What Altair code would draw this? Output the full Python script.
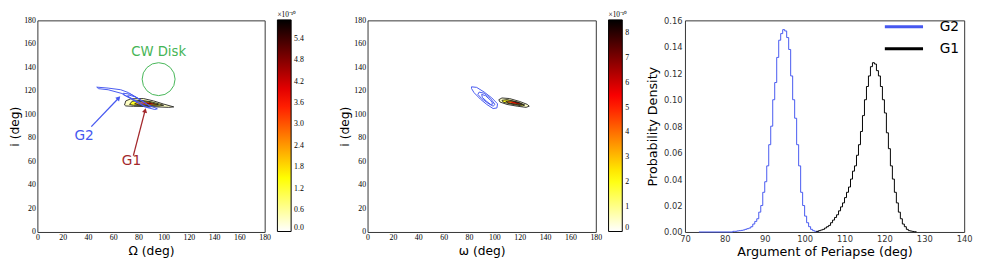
import altair as alt
import pandas as pd

# ---------------- Panel 1: Omega vs i ----------------
P1_G1_VALUES = [0.35, 1.3, 2.4, 3.7, 5.3]
P1_G1_C1 = [(69, 108.0), (70, 111.5), (74, 113.3), (84, 113.5), (92, 111.5), (100, 108.8), (108, 106.4), (104, 106.0), (90, 106.6), (76, 106.9), (70, 107.2)]
P1_G1_C2 = [(73, 108.5), (75, 111.2), (82, 112.0), (90, 110.8), (100, 107.8), (96, 107.2), (86, 107.5), (76, 107.8)]
P1_G1_C3 = [(77, 109.0), (80, 111.0), (88, 110.5), (96, 108.2), (88, 108.0), (80, 108.3)]
P1_G1_C4 = [(81, 109.3), (84, 110.4), (90, 109.8), (94, 108.6), (88, 108.6)]
P1_G1_C5 = [(85, 109.4), (89, 109.7), (91, 109.1), (87, 109.0)]

P1_G2_C1 = [(47, 123.2), (56, 122.4), (66, 121.0), (72, 118.6), (80, 113.5), (88, 108.0), (95, 104.8), (93, 104.2), (85, 106.4), (75, 113.0), (67, 117.8), (56, 121.0), (48.5, 121.9)]
P1_G2_C2 = [(68, 118.0), (74, 117.2), (82, 112.0), (90, 106.5), (88, 105.8), (80, 109.5), (73, 114.0), (68, 116.8)]
P1_G2_C3 = [(72, 116.6), (78, 114.8), (85, 110.0), (83, 109.4), (76, 112.8), (71.5, 115.6)]

CW_DISK = (96, 130)
P1_LABELS = ["CW Disk", "G2", "G1"]
P1_LABEL_POS = [(96, 153), (37, 82), (74.5, 60)]
G2_ARROW = [(42.7, 89.6), (64.4, 114.0)]
G1_ARROW = [(76.0, 65.0), (85.3, 103.4)]

# ---------------- Panel 2: omega vs i ----------------
P2_G1_VALUES = [0.5, 2.0, 4.0, 6.0, 8.0]
P2_G1_C1 = [(103.5, 112.5), (106, 114.0), (112, 113.5), (120, 111.0), (126, 108.5), (127.5, 107.0), (125, 106.0), (118, 107.0), (110, 108.5), (104.5, 110.5)]
P2_G1_C2 = [(106, 112.0), (110, 112.6), (118, 110.6), (124, 108.0), (122, 107.2), (114, 108.6), (107, 110.4)]
P2_G1_C3 = [(109, 111.2), (114, 111.4), (120, 109.8), (122.5, 108.4), (118, 108.4), (111, 109.8)]
P2_G1_C4 = [(113, 110.3), (117, 110.6), (121, 109.4), (118, 109.0), (114, 109.6)]
P2_G1_C5 = [(116, 110.0), (119, 110.1), (120.5, 109.5), (118, 109.4)]

P2_G2_C1 = [(82, 123.5), (86, 123.0), (92, 119.0), (98, 114.0), (102.5, 109.0), (102, 105.5), (99, 105.0), (94, 108.5), (89, 113.0), (84, 118.5), (82, 122.0)]
P2_G2_C2 = [(88, 119.0), (92, 118.0), (97, 113.5), (100.5, 108.5), (99, 107.0), (95, 109.5), (90, 113.5), (87, 117.0)]
P2_G2_C3 = [(90, 117.0), (93, 116.0), (97, 112.0), (99, 109.0), (97, 108.5), (94, 111.0), (90.5, 114.5)]

# ---------------- Panel 3: histograms ----------------
G2_EDGES = [82.0, 82.5, 83.0, 83.5, 84.0, 84.5, 85.0, 85.5, 86.0, 86.5, 87.0, 87.5, 88.0, 88.5, 89.0, 89.5,
            90.0, 90.5, 91.0, 91.5, 92.0, 92.5, 93.0, 93.5, 94.0, 94.5, 95.0, 95.5, 96.0, 96.5, 97.0, 97.5,
            98.0, 98.5, 99.0, 99.5, 100.0, 100.5, 101.0, 101.5, 102.0, 102.5, 103.0, 103.5]
G2_DENS = [0.0005, 0.0005, 0.0008, 0.001, 0.0012, 0.0015, 0.002, 0.0025, 0.003, 0.004, 0.006, 0.008, 0.01, 0.015,
           0.02, 0.03, 0.038, 0.05, 0.066, 0.08, 0.1, 0.113, 0.132, 0.145, 0.15, 0.153, 0.152, 0.147, 0.138, 0.118,
           0.1, 0.086, 0.066, 0.05, 0.03, 0.02, 0.012, 0.007, 0.004, 0.002, 0.001, 0.0005, 0.0003]
G1_EDGES = [103.0, 103.5, 104.0, 104.5, 105.0, 105.5, 106.0, 106.5, 107.0, 107.5, 108.0, 108.5, 109.0, 109.5,
            110.0, 110.5, 111.0, 111.5, 112.0, 112.5, 113.0, 113.5, 114.0, 114.5, 115.0, 115.5, 116.0, 116.5,
            117.0, 117.5, 118.0, 118.5, 119.0, 119.5, 120.0, 120.5, 121.0, 121.5, 122.0, 122.5, 123.0, 123.5,
            124.0, 124.5, 125.0, 125.5, 126.0, 126.5, 127.0, 127.5, 128.0]
G1_DENS = [0.0005, 0.001, 0.0015, 0.002, 0.003, 0.004, 0.005, 0.007, 0.009, 0.011, 0.013, 0.016, 0.019, 0.022,
           0.026, 0.03, 0.034, 0.04, 0.046, 0.05, 0.058, 0.066, 0.076, 0.088, 0.1, 0.11, 0.118, 0.125, 0.128,
           0.127, 0.122, 0.118, 0.11, 0.1, 0.09, 0.075, 0.063, 0.05, 0.04, 0.03, 0.022, 0.015, 0.01, 0.006,
           0.004, 0.002, 0.001, 0.0007, 0.0004, 0.0002]
G2_TAIL_START = 73.5

BLUE = "#4658f0"
GREEN = "#45b556"
DARKRED = "#a3282c"
SERIF = "Liberation Serif"
SANS = "DejaVu Sans"

W1, W2, H = 232, 233, 216
W3 = 285


def poly(pts, val, cid):
    closed = list(pts) + [pts[0]]
    return pd.DataFrame([{"x": p[0], "y": p[1], "k": k, "val": val, "cid": cid} for k, p in enumerate(closed)])


def heat_scale(vmax):
    return alt.Scale(domain=[0, 0.254 * vmax, 0.635 * vmax, vmax],
                     range=["#ffffff", "#ffff00", "#ff0000", "#000000"], interpolate="rgb")


def axes(xtitle, ytitle):
    common = dict(grid=False, ticks=False, domain=False, labelFont=SERIF, labelFontSize=8,
                  labelColor="#000", labelFlush=False, labelOverlap=False, labelPadding=2,
                  titleFont=SANS, titleFontSize=12.5, titleFontWeight="normal", titleColor="#000",
                  values=list(range(0, 181, 20)))
    return alt.Axis(title=xtitle, titlePadding=3, **common), alt.Axis(title=ytitle, titlePadding=2, **common)


def contour_panel(width, g1_contours, g1_vals, g2_contours, vmax, legend_values, legend_fmt, xtitle):
    xax, yax = axes(xtitle, "i (deg)")
    xs = alt.Scale(domain=[0, 180], nice=False)
    ys = alt.Scale(domain=[0, 180], nice=False)
    enc = dict(xax=xax, yax=yax, xs=xs, ys=ys)
    X = alt.X("x:Q", scale=xs, axis=xax)
    Y = alt.Y("y:Q", scale=ys, axis=yax)
    scale = heat_scale(vmax)
    layers = []
    for n, (c, v) in enumerate(zip(g1_contours, g1_vals)):
        leg = alt.Legend(orient="none", legendX=width + 13, legendY=-9, direction="vertical",
                         gradientLength=H, gradientThickness=14, gradientStrokeColor="#000",
                         gradientStrokeWidth=1, values=legend_values, format=legend_fmt,
                         labelFont=SERIF, labelFontSize=8, labelColor="#000", labelOffset=3,
                         labelOverlap=False, title="×10⁻¹⁰", titleFont=SERIF, titleFontSize=7.5,
                         titleFontWeight="normal", titlePadding=1, titleColor="#000") if n == 0 else None
        layers.append(
            alt.Chart(poly(c, v, f"g1_{n}")).mark_line(filled=True, strokeWidth=0).encode(
                x=X, y=Y, order="k:Q",
                color=alt.Color("val:Q", scale=scale, legend=leg),
            )
        )
    outl = pd.concat([poly(c, 0, f"o{n}") for n, c in enumerate(g1_contours[:3])])
    layers.append(alt.Chart(outl).mark_line(color="#222", strokeWidth=0.9).encode(
        x=X, y=Y, order="k:Q", detail="cid:N"))
    blue = pd.concat([poly(c, 0, f"b{n}") for n, c in enumerate(g2_contours)])
    layers.append(alt.Chart(blue).mark_line(color=BLUE, strokeWidth=1).encode(
        x=X, y=Y, order="k:Q", detail="cid:N"))
    return layers, X, Y, enc


def arrow(seg, color, ang, X, Y, enc):
    d = pd.DataFrame([{"x": seg[0][0], "y": seg[0][1], "x2": seg[1][0], "y2": seg[1][1]}])
    r = alt.Chart(d).mark_rule(color=color, strokeWidth=1.3).encode(x=X, y=Y, x2="x2:Q", y2="y2:Q")
    h = alt.Chart(d).mark_point(shape="triangle-up", filled=True, color=color, size=28, angle=ang,
                                opacity=1).encode(
        x=alt.X("x2:Q", scale=enc["xs"], axis=enc["xax"]),
        y=alt.Y("y2:Q", scale=enc["ys"], axis=enc["yax"]))
    return [r, h]


# panel 1
p1_layers, X1, Y1, E1 = contour_panel(W1, [P1_G1_C1, P1_G1_C2, P1_G1_C3, P1_G1_C4, P1_G1_C5], P1_G1_VALUES,
                                      [P1_G2_C1, P1_G2_C2, P1_G2_C3], 5.93,
                                      [0.0, 0.6, 1.2, 1.8, 2.4, 3.0, 3.6, 4.2, 4.8, 5.4], ".1f", "Ω (deg)")
disk = pd.DataFrame([{"x": CW_DISK[0], "y": CW_DISK[1]}])
p1_layers.append(alt.Chart(disk).mark_point(shape="circle", filled=False, color=GREEN, size=1130,
                                            strokeWidth=1, opacity=1).encode(x=X1, y=Y1))
lab = pd.DataFrame([{"t": t, "x": p[0], "y": p[1]} for t, p in zip(P1_LABELS, P1_LABEL_POS)])
for t, col, fs in zip(P1_LABELS, [GREEN, BLUE, DARKRED], [13.5, 14, 14]):
    p1_layers.append(alt.Chart(lab).transform_filter(alt.datum.t == t).mark_text(
        font=SANS, fontSize=fs, color=col, baseline="middle", align="center").encode(
        x=X1, y=Y1, text="t:N"))
p1_layers += arrow(G2_ARROW, BLUE, 43, X1, Y1, E1)
p1_layers += arrow(G1_ARROW, DARKRED, 14, X1, Y1, E1)
p1 = alt.layer(*p1_layers).properties(width=W1, height=H)

# panel 2
p2_layers, X2, Y2, E2 = contour_panel(W2, [P2_G1_C1, P2_G1_C2, P2_G1_C3, P2_G1_C4, P2_G1_C5], P2_G1_VALUES,
                                      [P2_G2_C1, P2_G2_C2, P2_G2_C3], 8.54,
                                      [0, 1, 2, 3, 4, 5, 6, 7, 8], "d", "ω (deg)")
p2 = alt.layer(*p2_layers).properties(width=W2, height=H)

# panel 3
rows = []
seq = [(G2_TAIL_START, 0.0)] + [(G2_EDGES[0], 0.0)] + list(zip(G2_EDGES[:-1], G2_DENS)) + [(G2_EDGES[-1], 0.0)]
for k, (x, y) in enumerate(seq):
    rows.append({"x": x, "y": y, "k": k, "s": "G2"})
seq = [(G1_EDGES[0], 0.0)] + list(zip(G1_EDGES[:-1], G1_DENS)) + [(G1_EDGES[-1], 0.0)]
for k, (x, y) in enumerate(seq):
    rows.append({"x": x, "y": y, "k": k, "s": "G1"})
hist = pd.DataFrame(rows)

p3 = alt.Chart(hist).mark_line(interpolate="step-after", strokeWidth=1).encode(
    x=alt.X("x:Q", scale=alt.Scale(domain=[70, 140], nice=False),
            axis=alt.Axis(values=list(range(70, 141, 10)), title="Argument of Periapse (deg)", grid=False,
                          ticks=False, domain=False, labelFont=SANS, labelFontSize=8.5, labelColor="#333",
                          labelFlush=False, labelOverlap=False, labelPadding=3, titleFont=SANS,
                          titleFontSize=13, titleFontWeight="normal", titleColor="#000", titlePadding=3)),
    y=alt.Y("y:Q", scale=alt.Scale(domain=[0, 0.16], nice=False),
            axis=alt.Axis(values=[0, 0.02, 0.04, 0.06, 0.08, 0.10, 0.12, 0.14, 0.16], format=".2f",
                          title="Probability Density", grid=False, ticks=False, domain=False,
                          labelFont=SANS, labelFontSize=8.5, labelColor="#333", labelFlush=False,
                          labelOverlap=False, labelPadding=3, titleFont=SANS, titleFontSize=13,
                          titleFontWeight="normal", titleColor="#000", titlePadding=4)),
    order="k:Q",
    color=alt.Color("s:N", scale=alt.Scale(domain=["G2", "G1"], range=[BLUE, "#000000"]),
                    legend=alt.Legend(orient="none", legendX=212, legendY=-5, title=None,
                                      symbolType="M-2,0H2", symbolSize=380, symbolStrokeWidth=3,
                                      labelFont=SANS, labelFontSize=14, labelColor="#000",
                                      labelOffset=25, rowPadding=3.5)),
).properties(width=W3, height=H)

left = alt.hconcat(p1, p2, spacing=34).resolve_scale(color="independent")
chart = alt.hconcat(left, p3, spacing=16).resolve_scale(color="independent").properties(
    padding={"left": 0, "top": 0, "right": 0, "bottom": 0}
).configure_view(stroke="#333", strokeWidth=1).configure_axis(labelOverlap=False)

chart.save("out.html", embed_options={"renderer": "svg", "actions": False})
